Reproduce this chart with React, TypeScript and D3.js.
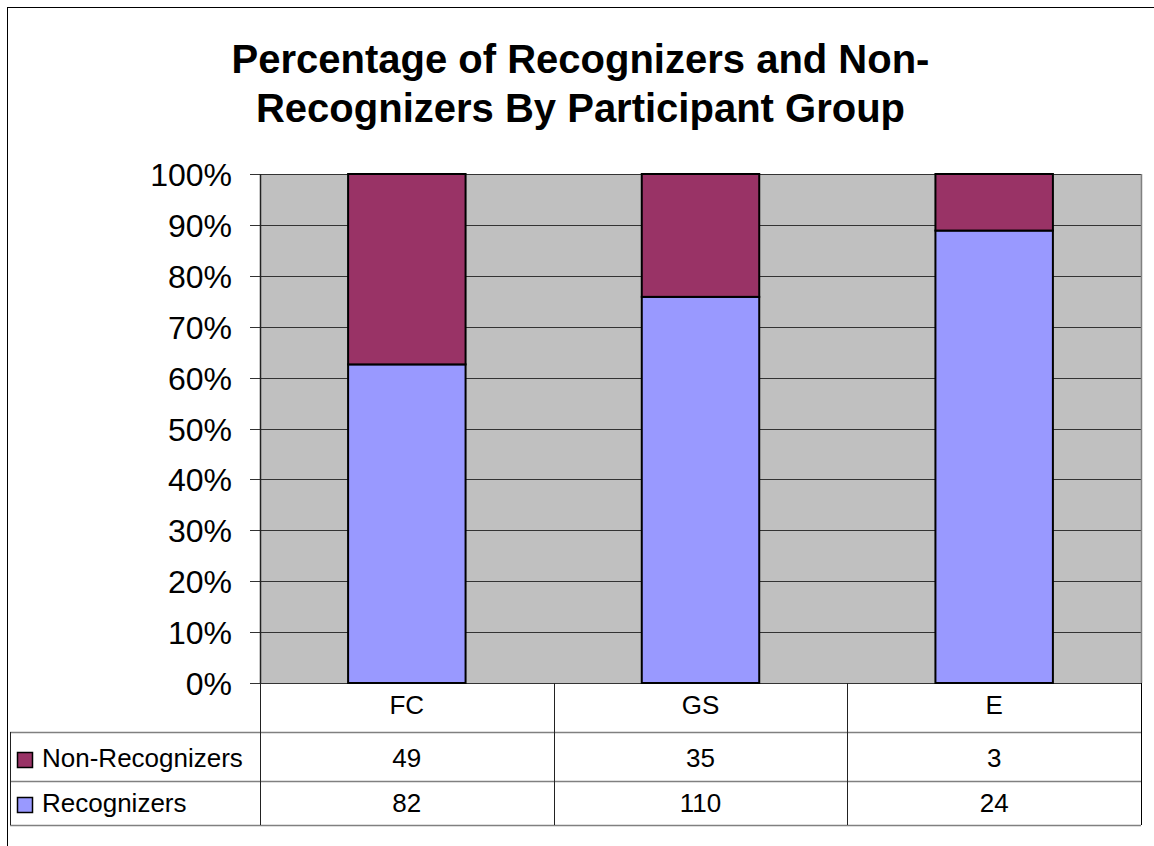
import React, { useEffect, useRef } from 'react';
import * as d3 from 'd3';

const groups = ['FC', 'GS', 'E'];
const nonRecognizers = [49, 35, 3];
const recognizers = [82, 110, 24];
const yTicks = [0, 0.1, 0.2, 0.3, 0.4, 0.5, 0.6, 0.7, 0.8, 0.9, 1];

const seriesNames = ['Recognizers', 'Non-Recognizers'];
const seriesColors = ['#9999FF', '#993366'];

const FONT = '"Liberation Sans", Arial, Helvetica, sans-serif';

function App() {
  const ref = useRef<SVGSVGElement>(null);

  useEffect(() => {
    const svg = d3.select(ref.current);
    svg.selectAll('*').remove();

    const width = 1154;
    const height = 846;
    const margin = { top: 174, left: 260, right: 13, bottom: 163 };
    const plotW = width - margin.left - margin.right;
    const plotH = height - margin.top - margin.bottom;

    // chart area border (right and bottom run off the page)
    svg
      .append('rect')
      .attr('x', 7.5)
      .attr('y', 7.5)
      .attr('width', width + 20)
      .attr('height', height + 20)
      .attr('fill', '#fff')
      .attr('stroke', '#000')
      .attr('stroke-width', 1);

    // title
    const title = svg
      .append('text')
      .attr('x', 580.5)
      .attr('text-anchor', 'middle')
      .style('font-family', FONT)
      .style('font-weight', 'bold')
      .style('font-size', '40px')
      .attr('fill', '#000');
    title.append('tspan').attr('x', 580.5).attr('y', 73).text('Percentage of Recognizers and Non-');
    title.append('tspan').attr('x', 580.5).attr('y', 122).text('Recognizers By Participant Group');

    const g = svg.append('g').attr('transform', 'translate(' + margin.left + ',' + margin.top + ')');

    const x = d3.scaleBand().domain(groups).range([0, plotW]).paddingInner(0.6).paddingOuter(0.3);
    const y = d3.scaleLinear().domain([0, 1]).range([plotH, 0]);

    // plot background
    g.append('rect').attr('width', plotW).attr('height', plotH).attr('fill', '#C0C0C0');

    // grid lines
    g.selectAll('.grid')
      .data(yTicks)
      .enter()
      .append('line')
      .attr('x1', -10)
      .attr('x2', plotW)
      .attr('y1', (d) => Math.round(y(d)) + 0.5)
      .attr('y2', (d) => Math.round(y(d)) + 0.5)
      .attr('stroke', '#333')
      .attr('stroke-width', 1);

    // right plot border
    g.append('line')
      .attr('x1', plotW + 0.5)
      .attr('x2', plotW + 0.5)
      .attr('y1', 0)
      .attr('y2', plotH)
      .attr('stroke', '#808080')
      .attr('stroke-width', 1.5);

    // y axis line
    g.append('line')
      .attr('x1', 0.5)
      .attr('x2', 0.5)
      .attr('y1', 0)
      .attr('y2', plotH)
      .attr('stroke', '#222')
      .attr('stroke-width', 1.5);

    // y tick labels
    g.selectAll('.ylab')
      .data(yTicks)
      .enter()
      .append('text')
      .attr('x', -28)
      .attr('y', (d) => y(d) + 12)
      .attr('text-anchor', 'end')
      .style('font-family', FONT)
      .style('font-size', '32px')
      .attr('fill', '#000')
      .text((d) => Math.round(d * 100) + '%');

    // stacked bars as share of each group
    const table = groups.map((grp, i) => ({
      group: grp,
      Recognizers: recognizers[i],
      'Non-Recognizers': nonRecognizers[i],
    }));
    const stack = d3.stack<any>().keys(seriesNames).offset(d3.stackOffsetExpand);
    const layers = stack(table);

    layers.forEach((layer, li) => {
      g.selectAll('.bar' + li)
        .data(layer)
        .enter()
        .append('rect')
        .attr('x', (d: any) => x(d.data.group) as number)
        .attr('width', x.bandwidth())
        .attr('y', (d: any) => y(d[1]))
        .attr('height', (d: any) => y(d[0]) - y(d[1]))
        .attr('fill', seriesColors[li])
        .attr('stroke', '#000')
        .attr('stroke-width', 2);
    });

    // data table under the plot
    const rowTops = [plotH, plotH + 49, plotH + 98];
    const tableBottom = plotH + 142;
    const tLeft = 10 - margin.left;

    const hlines = [rowTops[1], rowTops[2], tableBottom];
    g.selectAll('.hline')
      .data(hlines)
      .enter()
      .append('line')
      .attr('x1', tLeft)
      .attr('x2', plotW)
      .attr('y1', (d) => d + 0.5)
      .attr('y2', (d) => d + 0.5)
      .attr('stroke', '#808080')
      .attr('stroke-width', 1.5);

    const vlines = [0, ...groups.map((grp) => (x(grp) as number) + x.bandwidth() / 2 + x.step() / 2)];
    g.selectAll('.vline')
      .data(vlines)
      .enter()
      .append('line')
      .attr('x1', (d) => Math.round(d) + 0.5)
      .attr('x2', (d) => Math.round(d) + 0.5)
      .attr('y1', plotH)
      .attr('y2', tableBottom)
      .attr('stroke', (d, i) => (i === vlines.length - 1 ? '#000' : '#222'))
      .attr('stroke-width', 1);

    g.append('line')
      .attr('x1', tLeft + 0.5)
      .attr('x2', tLeft + 0.5)
      .attr('y1', rowTops[1])
      .attr('y2', tableBottom)
      .attr('stroke', '#222')
      .attr('stroke-width', 1);

    const cellText = (sel: any) =>
      sel.attr('text-anchor', 'middle').style('font-family', FONT).style('font-size', '26px').attr('fill', '#000');

    // category row
    g.selectAll('.cat')
      .data(groups)
      .enter()
      .append('text')
      .attr('x', (d) => (x(d) as number) + x.bandwidth() / 2)
      .attr('y', rowTops[0] + 31)
      .call(cellText)
      .text((d) => d);

    const rows = [
      { name: 'Non-Recognizers', values: nonRecognizers, color: seriesColors[1], base: rowTops[1] + 35 },
      { name: 'Recognizers', values: recognizers, color: seriesColors[0], base: rowTops[2] + 31 },
    ];

    rows.forEach((row) => {
      g.selectAll('.v' + row.name)
        .data(row.values)
        .enter()
        .append('text')
        .attr('x', (d, i) => (x(groups[i]) as number) + x.bandwidth() / 2)
        .attr('y', row.base)
        .call(cellText)
        .text((d) => String(d));

      g.append('rect')
        .attr('x', 17.5 - margin.left)
        .attr('y', row.base - 14.5)
        .attr('width', 15)
        .attr('height', 15)
        .attr('fill', row.color)
        .attr('stroke', '#000')
        .attr('stroke-width', 1.5);

      g.append('text')
        .attr('x', 42 - margin.left)
        .attr('y', row.base)
        .style('font-family', FONT)
        .style('font-size', '26px')
        .attr('fill', '#000')
        .text(row.name);
    });
  }, []);

  return (
    <svg
      ref={ref}
      width={1154}
      height={846}
      style={{ position: 'absolute', left: 0, top: 0, background: '#fff' }}
    />
  );
}

export default App;
